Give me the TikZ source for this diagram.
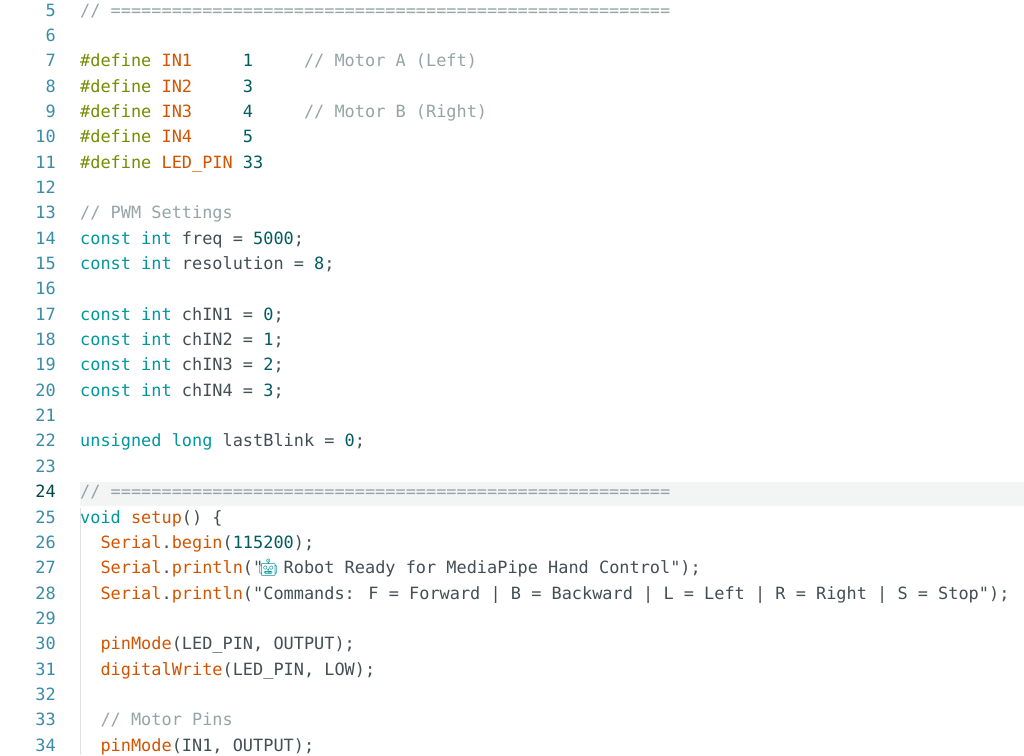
\documentclass[tikz,border=0pt]{standalone}
\usepackage{fontspec}
\usetikzlibrary{positioning}
\newfontfamily\codefont{DejaVu Sans Mono}
\newfontfamily\emojifont{Noto Emoji}
\definecolor{CodeOrange}{HTML}{D35400}
\definecolor{CodeOlive}{HTML}{728E00}
\definecolor{CodeTeal}{HTML}{00979D}
\definecolor{CodeGray}{HTML}{95A5A6}
\definecolor{CodeNum}{HTML}{005C5F}
\definecolor{CodeText}{HTML}{434F54}
\definecolor{LineNum}{HTML}{3A8CA8}
\definecolor{LineHi}{HTML}{F3F4F4}
\newcommand{\cO}[1]{\textcolor{CodeOrange}{#1}}
\newcommand{\cD}[1]{\textcolor{CodeOlive}{#1}}
\newcommand{\cK}[1]{\textcolor{CodeTeal}{#1}}
\newcommand{\cC}[1]{\textcolor{CodeGray}{#1}}
\newcommand{\cN}[1]{\textcolor{CodeNum}{#1}}
\newcommand{\sepline}{// =======================================================}

\begin{document}
\begin{tikzpicture}[x=1pt,y=-1pt,
    codeline/.style={anchor=base west,inner sep=0pt,font=\codefont\fontsize{16.9}{18}\selectfont,text=CodeText},
    linenum/.style={anchor=base east,inner sep=0pt,font=\codefont\fontsize{16.9}{18}\selectfont,text=LineNum}]
    \useasboundingbox[fill=white] (0,0) rectangle (1024,755);
    % highlighted line 24
    \fill[LineHi] (80,482) rectangle (1024,506);
    % indent guide
    \draw[black!12,line width=0.8pt] (80,508) -- (80,755);
    \foreach \n in {5,...,34} {
     \node[linenum] (num\n) at (56,{16+(\n-5)*25.35}) {\ifnum\n=24 \textcolor{CodeNum!80!black}{\n}\else\n\fi};
    }
    \foreach \n/\txt in {
      5/{\cC{\sepline}},
      7/{\cD{\#define} \cO{IN1}\ \ \ \ \ \cN{1}\ \ \ \ \ \cC{// Motor A (Left)}},
      8/{\cD{\#define} \cO{IN2}\ \ \ \ \ \cN{3}},
      9/{\cD{\#define} \cO{IN3}\ \ \ \ \ \cN{4}\ \ \ \ \ \cC{// Motor B (Right)}},
      10/{\cD{\#define} \cO{IN4}\ \ \ \ \ \cN{5}},
      11/{\cD{\#define} \cO{LED\_PIN} \cN{33}},
      13/{\cC{// PWM Settings}},
      14/{\cK{const} \cK{int} freq = \cN{5000};},
      15/{\cK{const} \cK{int} resolution = \cN{8};},
      17/{\cK{const} \cK{int} chIN1 = \cN{0};},
      18/{\cK{const} \cK{int} chIN2 = \cN{1};},
      19/{\cK{const} \cK{int} chIN3 = \cN{2};},
      20/{\cK{const} \cK{int} chIN4 = \cN{3};},
      22/{\cK{unsigned} \cK{long} lastBlink = \cN{0};},
      24/{\cC{\sepline}},
      25/{\cK{void} \cO{setup}() \{},
      26/{\ \ \cO{Serial}.\cO{begin}(\cN{115200});},
      27/{\ \ \cO{Serial}.\cO{println}("\makebox[0.602em]{\emojifont\textcolor{CodeTeal}{🤖}} Robot Ready for MediaPipe Hand Control");},
      28/{\ \ \cO{Serial}.\cO{println}("Commands: F = Forward | B = Backward | L = Left | R = Right | S = Stop");},
      30/{\ \ \cO{pinMode}(LED\_PIN, OUTPUT);},
      31/{\ \ \cO{digitalWrite}(LED\_PIN, LOW);},
      33/{\ \ \cC{// Motor Pins}},
      34/{\ \ \cO{pinMode}(IN1, OUTPUT);}} {
     \node[codeline] (line\n) at (80,{16+(\n-5)*25.35}) {\txt};
    }
\end{tikzpicture}
\end{document}
